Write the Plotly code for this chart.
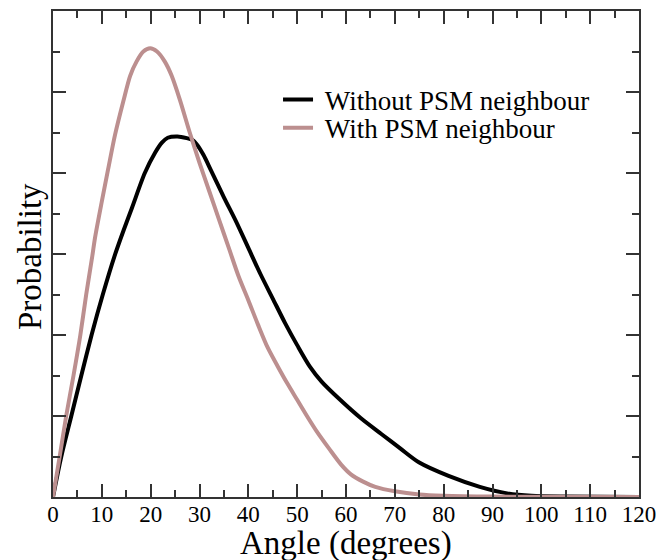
import plotly.graph_objects as go

# Angle (degrees) and probability (arbitrary units)
angle_without = [0, 1.7, 3.75, 5.8, 7.9, 10.2, 12.6, 14.5, 16.2, 18.8, 20.9, 22.3, 23.5, 25.5,
                 27.4, 28.5, 29.5, 30.8, 32.3, 35.0, 37.5, 40.0, 42.5, 45.0, 47.5, 50.0,
                 52.6, 55.0, 58.8, 63.0, 67.3, 71.1, 75.0, 81.0, 87.4, 93.0, 98.0, 105.0, 120.0]
prob_without = [0, 1.0, 2.0, 3.0, 4.0, 5.0, 5.95, 6.6, 7.15, 8.0, 8.5, 8.75, 8.87, 8.9,
                8.86, 8.82, 8.7, 8.45, 8.08, 7.4, 6.8, 6.15, 5.5, 4.9, 4.3, 3.75,
                3.22, 2.85, 2.4, 1.95, 1.55, 1.2, 0.85, 0.52, 0.25, 0.09, 0.03, 0.01, 0.0]

angle_with = [0, 1.37, 2.7, 4.2, 5.6, 6.8, 8.05, 8.6, 10.0, 11.3, 12.7, 14.4, 15.8, 17.1,
              18.5, 19.9, 21.3, 22.9, 24.3, 26.0, 28.0, 30.0, 32.0, 34.0, 36.0, 38.0,
              40.0, 42.0, 44.0, 46.0, 48.0, 50.0, 52.0, 54.0, 56.5, 59.0, 61.0, 63.5,
              66.0, 70.0, 75.0, 80.0, 90.0, 120.0]
prob_with = [0, 1.0, 2.0, 3.0, 4.0, 5.0, 5.95, 6.4, 7.3, 8.1, 8.94, 9.77, 10.4, 10.75,
             11.0, 11.08, 11.0, 10.75, 10.4, 9.8, 9.0, 8.25, 7.55, 6.85, 6.15, 5.45,
             4.86, 4.25, 3.68, 3.23, 2.8, 2.4, 2.0, 1.62, 1.2, 0.8, 0.56, 0.38,
             0.25, 0.14, 0.06, 0.03, 0.01, 0.0]

x_ticks = list(range(0, 121, 10))

FONT = "Liberation Serif"
AXC = "#333333"

fig = go.Figure()
fig.add_trace(go.Scatter(x=angle_without, y=prob_without, mode="lines",
                         name="\u00a0Without PSM neighbour", legend="legend",
                         line=dict(color="black", width=4, shape="spline", smoothing=0.8)))
fig.add_trace(go.Scatter(x=angle_with, y=prob_with, mode="lines",
                         name="\u00a0With PSM neighbour", legend="legend2",
                         line=dict(color="rgb(188,143,143)", width=4, shape="spline", smoothing=0.8)))

axis_common = dict(showgrid=False, zeroline=False, showline=True, linecolor=AXC,
                   linewidth=1.5, ticks="inside", mirror="allticks", tickcolor=AXC,
                   tickwidth=1.5, automargin=False)

fig.update_xaxes(range=[0, 120], tickvals=x_ticks, ticktext=[str(v) for v in x_ticks],
                 ticklen=13, ticklabelstandoff=-4,
                 minor=dict(dtick=5, ticklen=7, ticks="inside", tickcolor=AXC, tickwidth=1.5),
                 tickfont=dict(family=FONT, size=23, color="black"),
                 **axis_common)
fig.update_yaxes(range=[0, 12], dtick=2, ticklen=13, showticklabels=False,
                 minor=dict(dtick=1, ticklen=7, ticks="inside", tickcolor=AXC, tickwidth=1.5),
                 **axis_common)

fig.add_annotation(text="Angle (degrees)", xref="paper", yref="paper",
                   x=0.5, y=-0.0947, xanchor="center", yanchor="middle", showarrow=False,
                   font=dict(family=FONT, size=33, color="black"))
fig.add_annotation(text="Probability", xref="paper", yref="paper", textangle=-90,
                   x=-0.039, y=0.494, xanchor="center", yanchor="middle", showarrow=False,
                   font=dict(family=FONT, size=33, color="black"))

legend_style = dict(xanchor="left", yanchor="middle", bgcolor="rgba(0,0,0,0)",
                    font=dict(family=FONT, size=27, color="black"), itemwidth=30,
                    borderwidth=0)

fig.update_layout(
    width=672, height=560,
    margin=dict(l=53, r=33, t=11, b=63),
    paper_bgcolor="white", plot_bgcolor="white",
    showlegend=True,
    legend=dict(x=0.384, y=0.817, **legend_style),
    legend2=dict(x=0.384, y=0.759, **legend_style),
)

fig.write_html("out.html", config={"displayModeBar": False},
               post_script="document.body.style.margin='0';document.body.style.overflow='hidden';")
